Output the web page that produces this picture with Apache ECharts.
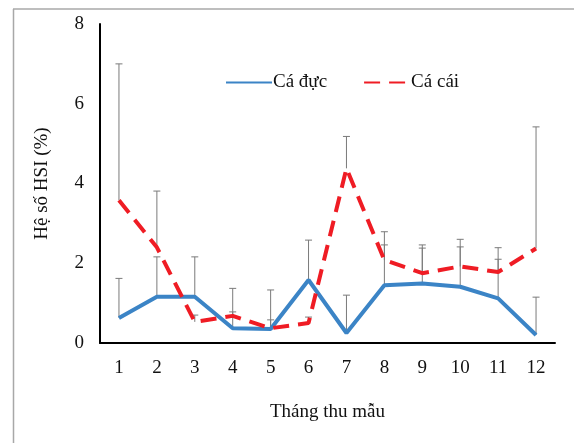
<!DOCTYPE html>
<html>
<head>
<meta charset="utf-8">
<script src="https://cdn.jsdelivr.net/npm/echarts@6/dist/echarts.min.js"></script>
<style>
    html, body { margin: 0; padding: 0; background: #fff; }
    #chart { width: 574px; height: 443px; }
</style>
</head>
<body>
<div id="chart"></div>
<script>
    const months = ['1', '2', '3', '4', '5', '6', '7', '8', '9', '10', '11', '12']
    const maleHSI = [0.63, 1.16, 1.16, 0.37, 0.35, 1.58, 0.25, 1.45, 1.49, 1.41, 1.12, 0.2]
    const maleSD = [0.99, 1.0, 1.0, 1.0, 0.98, 1.0, 0.95, 1.01, 0.89, 1.0, 0.98, 0.95]
    const femaleHSI = [3.58, 2.4, 0.53, 0.68, 0.37, 0.5, 4.38, 2.08, 1.75, 1.92, 1.78, 2.37]
    const femaleSD = [3.42, 1.41, 0.17, 0.1, 0.21, 0.15, 0.8, 0.71, 0.71, 0.68, 0.61, 3.05]

    const font = '"Liberation Serif", "Times New Roman", serif'

    // thanh sai số: chỉ vẽ phía trên
    function errorBars(name, means, sds) {
        return {
            name: name + ' SD',
            type: 'custom',
            z: 1,
            silent: true,
            data: means.map((m, i) => [i, m, m + sds[i]]),
            renderItem: (params, api) => {
                const base = api.coord([api.value(0), api.value(1)])
                const top = api.coord([api.value(0), api.value(2)])
                const style = { stroke: '#7a7a7a', lineWidth: 1 }
                return {
                    type: 'group',
                    children: [
                        { type: 'line', shape: { x1: top[0], y1: base[1], x2: top[0], y2: top[1] }, style: style },
                        { type: 'line', shape: { x1: top[0] - 3.5, y1: top[1], x2: top[0] + 3.5, y2: top[1] }, style: style }
                    ]
                }
            }
        }
    }

    const chart = echarts.init(document.getElementById('chart'))
    chart.setOption({
        animation: false,
        textStyle: { fontFamily: font },
        graphic: [
            { type: 'line', shape: { x1: 13, y1: 9, x2: 574, y2: 9 }, style: { stroke: '#a8a8a8', lineWidth: 1.5 } },
            { type: 'line', shape: { x1: 13.5, y1: 9, x2: 13.5, y2: 443 }, style: { stroke: '#a8a8a8', lineWidth: 1.5 } }
        ],
        legend: {
            left: 220,
            top: 68,
            itemWidth: 46,
            itemHeight: 10,
            itemGap: 36,
            itemStyle: { opacity: 0 },
            textStyle: { fontFamily: font, fontSize: 19, color: '#111', padding: [0, 0, 0, -4] },
            data: ['Cá đực', 'Cá cái']
        },
        grid: { left: 100, right: 19, top: 24, bottom: 100 },
        xAxis: {
            type: 'category',
            data: months,
            name: 'Tháng thu mẫu',
            nameLocation: 'middle',
            nameGap: 60,
            nameTextStyle: { fontFamily: font, fontSize: 19, color: '#111' },
            axisLine: { lineStyle: { color: '#000', width: 2 } },
            axisTick: { show: false },
            axisLabel: { fontFamily: font, fontSize: 19, color: '#111', margin: 16 }
        },
        yAxis: {
            type: 'value',
            min: 0,
            max: 8,
            interval: 2,
            name: 'Hệ số HSI (%)',
            nameLocation: 'middle',
            nameGap: 48,
            nameTextStyle: { fontFamily: font, fontSize: 19, color: '#111' },
            axisLine: { show: true, lineStyle: { color: '#000', width: 2 } },
            axisTick: { show: false },
            splitLine: { show: false },
            axisLabel: { fontFamily: font, fontSize: 19, color: '#111', margin: 16 }
        },
        series: [
            errorBars('Cá đực', maleHSI, maleSD),
            errorBars('Cá cái', femaleHSI, femaleSD),
            {
                name: 'Cá đực',
                type: 'line',
                data: maleHSI,
                symbol: 'none',
                z: 3,
                itemStyle: { color: '#3b84c6' },
                lineStyle: { color: '#3b84c6', width: 4 }
            },
            {
                name: 'Cá cái',
                type: 'line',
                data: femaleHSI,
                symbol: 'none',
                z: 4,
                itemStyle: { color: '#ef1c24' },
                lineStyle: { color: '#ef1c24', width: 4, type: [16, 9] }
            }
        ]
    })
</script>
</body>
</html>
